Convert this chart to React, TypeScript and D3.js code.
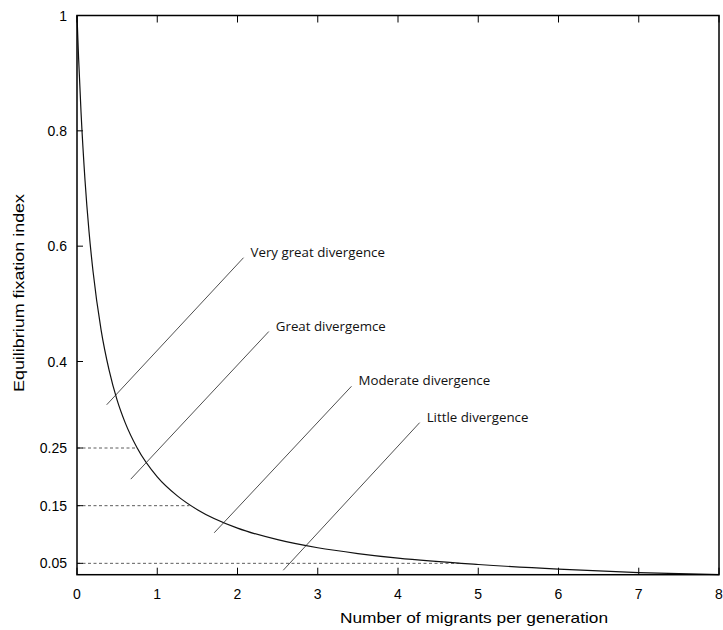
import React from "react";
import * as d3 from "d3";

const curveX = [0, 0.02, 0.05, 0.1, 0.15, 0.2, 0.3, 0.4, 0.5, 0.6, 0.75, 1, 1.25, 1.5, 2, 2.5, 3, 3.5, 4, 5, 6, 7, 8];
const curveY = [1, 0.926, 0.833, 0.714, 0.625, 0.556, 0.455, 0.385, 0.333, 0.294, 0.25, 0.2, 0.167, 0.143, 0.111, 0.091, 0.077, 0.067, 0.059, 0.048, 0.04, 0.034, 0.0303];

const xTicks = [0, 1, 2, 3, 4, 5, 6, 7, 8];
const yTicks = [1, 0.8, 0.6, 0.4, 0.25, 0.15, 0.05];
const refLevels = [0.25, 0.15, 0.05];
const refEndX = [0.73, 1.4, 4.8];

const annLabels = ["Very great divergence", "Great divergemce", "Moderate divergence", "Little divergence"];
const annX1 = [0.37, 0.67, 1.71, 2.57];
const annY1 = [0.325, 0.196, 0.103, 0.038];
const annX2 = [2.075, 2.39, 3.42, 4.27];
const annY2 = [0.58, 0.452, 0.357, 0.294];

export default function App() {
  const W = 723, H = 630;
  const left = 77, right = 719, top = 15.5, bottom = 574.7;
  const x = d3.scaleLinear().domain([0, 8]).range([left, right]);
  const y = d3.scaleLinear().domain([0.0303, 1]).range([bottom, top]);
  const pts: [number, number][] = curveX.map((v, i) => [v, curveY[i]]);
  const line = d3.line<[number, number]>().x(d => x(d[0])).y(d => y(d[1])).curve(d3.curveMonotoneX);
  const tickFont = "'Liberation Sans', Arial, sans-serif";
  const annFont = "'Open Sans', 'Noto Sans', sans-serif";
  return (
    <svg width={W} height={H} style={{ position: "absolute", left: 0, top: 0, background: "#fff" }}>
      {refLevels.map((lv, i) => (
        <line key={"r" + i} x1={x(0)} x2={x(refEndX[i])} y1={y(lv)} y2={y(lv)} stroke="#333" strokeWidth={0.8} strokeDasharray="3,2.5" />
      ))}
      {xTicks.map(t => (
        <g key={"x" + t}>
          <line x1={x(t)} x2={x(t)} y1={bottom} y2={bottom - 7} stroke="#000" strokeWidth={1} />
          <line x1={x(t)} x2={x(t)} y1={top} y2={top + 7} stroke="#000" strokeWidth={1} />
          <text x={x(t)} y={599} textAnchor="middle" fontFamily={tickFont} fontSize={14} fill="#000">{t}</text>
        </g>
      ))}
      {yTicks.map(t => (
        <g key={"y" + t}>
          <line x1={left} x2={left + 6} y1={y(t)} y2={y(t)} stroke="#000" strokeWidth={1} />
          <text x={67} y={y(t) + 5} textAnchor="end" fontFamily={tickFont} fontSize={14} fill="#000">{t}</text>
        </g>
      ))}
      <path d={line(pts) || ""} fill="none" stroke="#111" strokeWidth={1.2} />
      {annLabels.map((lab, i) => (
        <g key={"a" + i}>
          <line x1={x(annX1[i])} y1={y(annY1[i])} x2={x(annX2[i])} y2={y(annY2[i])} stroke="#222" strokeWidth={0.8} />
          <text x={x(annX2[i]) + 7} y={y(annY2[i]) - 1} fontFamily={annFont} fontSize={13.3} fill="#111">{lab}</text>
        </g>
      ))}
      <rect x={left} y={top} width={right - left} height={bottom - top} fill="none" stroke="#000" strokeWidth={1.5} />
      <text x={474} y={623} textAnchor="middle" fontFamily={tickFont} fontSize={15} textLength={268} lengthAdjust="spacingAndGlyphs" fill="#000">Number of migrants per generation</text>
      <text transform={`translate(24, 293) rotate(-90)`} textAnchor="middle" fontFamily={tickFont} fontSize={15} textLength={198} lengthAdjust="spacingAndGlyphs" fill="#000">Equilibrium fixation index</text>
    </svg>
  );
}
